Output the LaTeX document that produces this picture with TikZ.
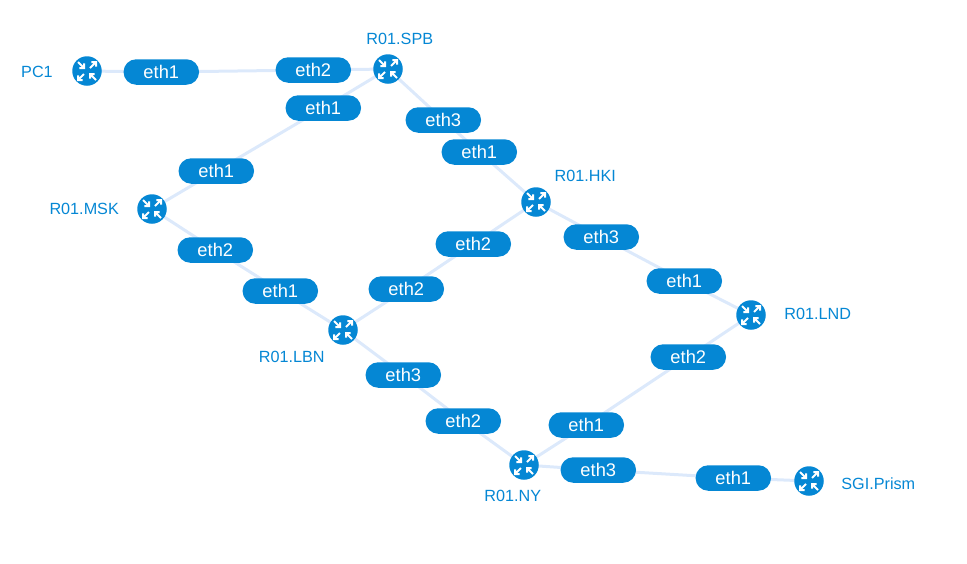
\documentclass[tikz,border=0pt]{standalone}
\usepackage{fontspec}
\setmainfont{Liberation Sans}
\usetikzlibrary{backgrounds}
\definecolor{nxblue}{HTML}{0587D4}
\definecolor{nxlink}{HTML}{DCE9FB}
\tikzset{
  x=1pt,y=-1pt,
  pill/.style={fill=nxblue,text=white,rounded corners=12.7pt,minimum width=75.5pt,minimum height=25.5pt,inner sep=0pt,font=\fontsize{18.3}{20}\selectfont},
  router/.style={circle,fill=nxblue,minimum size=29.5pt,inner sep=0pt,
    path picture={
      \foreach \sx/\sy/\io in {-1/-1/1,1/-1/0,-1/1/0,1/1/1}{
        \ifnum\io=1
          \draw[white,line width=2pt,shift={(path picture bounding box.center)}] (\sx*9,\sy*9)--(\sx*3,\sy*3) (\sx*7.6,\sy*3)--(\sx*3,\sy*3)--(\sx*3,\sy*7.6);
        \else
          \draw[white,line width=2pt,shift={(path picture bounding box.center)}] (\sx*3,\sy*3)--(\sx*9,\sy*9) (\sx*4.4,\sy*9)--(\sx*9,\sy*9)--(\sx*9,\sy*4.4);
        \fi
      }
    }},
  lbl/.style={text=nxblue,inner sep=0pt,font=\fontsize{16.2}{18}\selectfont},
  lnk/.style={draw=nxlink,line width=3pt}
}
\begin{document}
\begin{tikzpicture}
\useasboundingbox (0,0) rectangle (967,563);
\node[router] (pc) at (87,71) {};
\node[router] (spb) at (388,69) {};
\node[router] (msk) at (152,209) {};
\node[router] (hki) at (536,202) {};
\node[router] (lbn) at (343,330) {};
\node[router] (lnd) at (751,315) {};
\node[router] (ny) at (524,465) {};
\node[router] (sgi) at (809,481) {};
\node[lbl] (tpc) at (37,71.8) {PC1};
\node[lbl] (tspb) at (399.8,38.8) {R01.SPB};
\node[lbl] (tmsk) at (84.2,208.8) {R01.MSK};
\node[lbl] (thki) at (585.2,175.8) {R01.HKI};
\node[lbl] (tlbn) at (291.7,356.8) {R01.LBN};
\node[lbl] (tlnd) at (817.8,313.8) {R01.LND};
\node[lbl] (tny) at (512.7,495.8) {R01.NY};
\node[lbl] (tsgi) at (878.3,483.8) {SGI.Prism};
\node[pill] (a1) at (161.3,72) {eth1};
\node[pill] (a2) at (313.3,70) {eth2};
\node[pill] (b1) at (323.3,108) {eth1};
\node[pill] (b2) at (216.3,171) {eth1};
\node[pill] (c1) at (443.3,120) {eth3};
\node[pill] (c2) at (479.3,152) {eth1};
\node[pill] (d1) at (215.3,250) {eth2};
\node[pill] (d2) at (280.3,291) {eth1};
\node[pill] (e1) at (406.3,289) {eth2};
\node[pill] (e2) at (473.3,244) {eth2};
\node[pill] (f1) at (601.3,237) {eth3};
\node[pill] (f2) at (684.3,281) {eth1};
\node[pill] (g1) at (403.3,375) {eth3};
\node[pill] (g2) at (463.3,421) {eth2};
\node[pill] (h1) at (586.3,425) {eth1};
\node[pill] (h2) at (688.3,357) {eth2};
\node[pill] (i1) at (598.3,470) {eth3};
\node[pill] (i2) at (733.3,478) {eth1};
\begin{scope}[on background layer]
\draw[lnk] (pc.center)--(a1.center)--(a2.center)--(spb.center);
\draw[lnk] (spb.center)--(b1.center)--(b2.center)--(msk.center);
\draw[lnk] (spb.center)--(c1.center)--(c2.center)--(hki.center);
\draw[lnk] (msk.center)--(d1.center)--(d2.center)--(lbn.center);
\draw[lnk] (lbn.center)--(e1.center)--(e2.center)--(hki.center);
\draw[lnk] (hki.center)--(f1.center)--(f2.center)--(lnd.center);
\draw[lnk] (lbn.center)--(g1.center)--(g2.center)--(ny.center);
\draw[lnk] (ny.center)--(h1.center)--(h2.center)--(lnd.center);
\draw[lnk] (ny.center)--(i1.center)--(i2.center)--(sgi.center);
\end{scope}
\end{tikzpicture}
\end{document}
